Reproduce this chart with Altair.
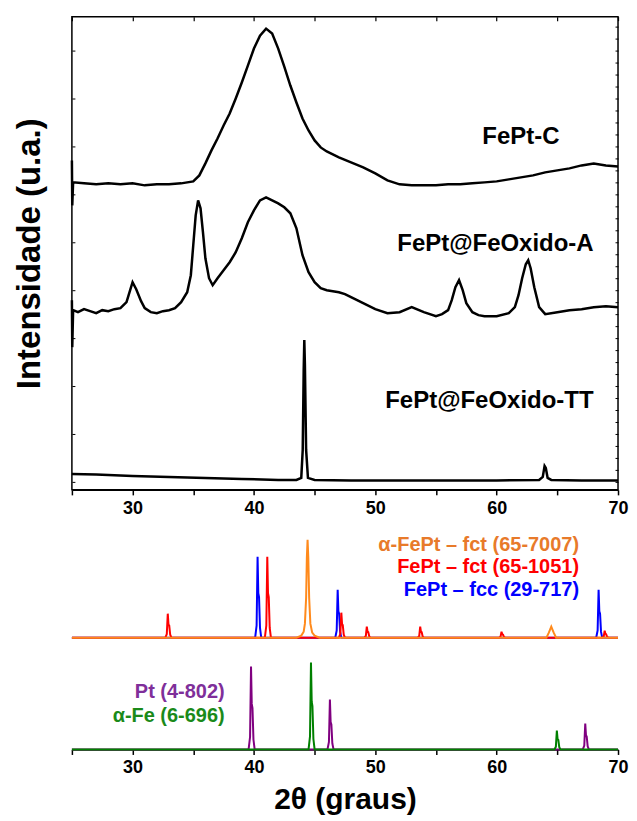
import altair as alt
import pandas as pd

FONT = "Liberation Sans"

# ---------------- sample patterns (top panel, arbitrary units) ----------------
c_x = [25, 25.03, 25.1, 26, 27, 28, 29, 30, 31, 32, 33, 34, 35, 35.5, 36, 36.5, 37, 37.5, 38, 38.5, 39, 39.5,
       40, 40.5, 41, 41.5, 42, 42.5, 43, 43.5, 44, 44.5, 45, 45.5, 46, 46.5, 47, 48, 49, 50, 51, 52,
       53, 54, 55, 56, 57, 58, 59, 60, 61, 62, 63, 64, 65, 66, 67, 68, 69, 70]
c_y = [330, 285, 308, 307, 306, 307, 306, 307, 305, 306, 306, 307, 309, 315, 327, 340, 352, 365, 377, 392, 408, 425,
       442, 455, 462, 457, 442, 424, 405, 388, 372, 360, 350, 343, 339, 336, 333, 328, 323, 317, 310, 306,
       305, 305, 305, 306, 306, 307, 308, 309, 311, 313, 315, 318, 320, 322, 325, 327, 325, 324]

a_x = [25, 25.03, 25.1, 25.5, 26, 26.5, 27, 27.5, 28, 28.5, 29, 29.5, 29.8, 30.0, 30.3, 30.7, 31, 31.5, 32, 32.5, 33,
       33.5, 34, 34.5, 34.8, 35.0, 35.2, 35.4, 35.6, 35.8, 36.0, 36.3, 36.6, 37, 37.5, 38, 38.5, 39, 39.5,
       40, 40.5, 41, 41.5, 42, 42.5, 43, 43.5, 44, 44.5, 45, 45.5, 46, 46.5, 47, 47.5, 48, 49, 50, 51, 52,
       53, 54, 55, 55.5, 56, 56.3, 56.6, 56.9, 57.2, 57.5, 58, 58.5, 59, 60, 61, 61.5, 61.8, 62.1, 62.4,
       62.6, 62.8, 63.1, 63.5, 64, 65, 66, 67, 68, 69, 70]
a_y = [190, 143, 180, 178, 181, 179, 177, 180, 179, 181, 182, 188, 200, 208, 201, 189, 182, 178, 177, 179, 180,
       182, 188, 198, 215, 245, 275, 290, 282, 258, 232, 212, 205, 212, 220, 228, 238, 252, 268,
       280, 290, 293, 290, 287, 283, 277, 262, 235, 218, 208, 202, 200, 199, 198, 196, 193, 187, 181, 177, 178,
       183, 178, 174, 176, 180, 190, 203, 210, 200, 187, 178, 175, 174, 174, 177, 183, 195, 212, 226,
       230, 222, 203, 183, 176, 178, 180, 181, 183, 184, 183]

tt_x = [25, 27, 30, 33, 36, 39, 42, 43.5, 43.9, 44.02, 44.1, 44.15, 44.2, 44.3, 44.45, 45, 48, 52, 56, 60,
        63.5, 63.8, 63.95, 64.05, 64.2, 64.5, 67, 70]
tt_y = [16, 15.5, 14, 13, 12, 11, 10, 10, 12, 40, 120, 150, 125, 40, 12, 10, 9.5, 9.5, 9.5, 9.5,
        10, 13, 24, 22, 12, 10, 9.5, 9.5]

# ---------------- reference patterns ----------------
fcc_pos = [40.3, 46.9, 68.4]
fcc_h = [81, 48, 48]
fct_pos = [32.9, 41.1, 47.2, 49.3, 53.7, 60.4, 68.9]
fct_h = [24, 81, 25, 11, 11, 6, 7]
afct_x = [25, 43.5, 43.9, 44.1, 44.2, 44.3, 44.36, 44.42, 44.48, 44.55, 44.65, 44.8, 45.0, 45.4,
          64.1, 64.3, 64.5, 64.7, 64.9, 70]
afct_y = [0, 0, 2, 6, 14, 40, 80, 98, 80, 40, 14, 5, 2, 0, 0, 5, 11, 5, 0, 0]
pt_pos = [39.76, 46.26, 67.3]
pt_h = [83, 50, 26]
fe_pos = [44.7, 64.96]
fe_h = [87, 19]

PROFILE_DX = [-0.2, -0.08, 0, 0.06, 0.12, 0.2, 0.3]
PROFILE_F = [0, 0.15, 1, 0.55, 0.5, 0.12, 0]


def sticks(name, pos, h):
    xs, ys = [25], [0]
    for p, hh in zip(pos, h):
        for dx, f in zip(PROFILE_DX, PROFILE_F):
            xs.append(p + dx)
            ys.append(hh * f)
    xs.append(70)
    ys.append(0)
    return pd.DataFrame({"x": xs, "y": ys, "s": name})


W = 547
H1, H2, H3 = 474, 119, 108
XS = alt.Scale(domain=[25, 70], nice=False, zero=False)
YT = alt.Scale(domain=[0, H1], nice=False, zero=False)
TICKS = [25, 30, 35, 40, 45, 50, 55, 60, 65, 70]
YTICKS = list(range(8, H1, 12))
LBL = "datum.value % 10 == 0 ? datum.label : ''"


def xaxis(title=None, lpad=5):
    kw = dict(values=TICKS, labelExpr=LBL, tickSize=5, tickWidth=1.5, tickColor="black",
              domainColor="black", domainWidth=1.5, grid=False, labelFont=FONT,
              labelFontSize=18, labelFontWeight="bold", labelColor="black", labelPadding=lpad,
              labelFlush=False)
    if title:
        kw.update(title=title, titleFont=FONT, titleFontSize=30, titleFontWeight="bold",
                  titleColor="black", titlePadding=8)
    else:
        kw.update(title=None)
    return alt.Axis(**kw)


# ---------------- top panel ----------------
top_df = pd.concat([
    pd.DataFrame({"x": c_x, "y": c_y, "s": "FePt-C"}),
    pd.DataFrame({"x": a_x, "y": a_y, "s": "FePt@FeOxido-A"}),
    pd.DataFrame({"x": tt_x, "y": tt_y, "s": "FePt@FeOxido-TT"}),
])

top_lines = alt.Chart(top_df).mark_line(color="black", strokeWidth=2.5).encode(
    x=alt.X("x:Q", scale=XS, axis=xaxis()),
    y=alt.Y("y:Q", scale=YT,
            axis=alt.Axis(title="Intensidade (u.a.)", labels=False, values=YTICKS, tickSize=3,
                          tickColor="black", tickWidth=1, offset=-3, grid=False, domain=False,
                          titleFont=FONT, titleFontSize=33,
                          titleFontWeight="bold", titleColor="black", titlePadding=25)),
    detail="s:N",
)


def label(text, x, y, color="black", size=24, align="center"):
    return alt.Chart().mark_text(text=text, font=FONT, fontSize=size, fontWeight="bold",
                                 color=color, align=align, baseline="middle").encode(
        x=alt.datum(x), y=alt.datum(y))


main = alt.layer(
    top_lines,
    label("FePt-C", 62.0, 353.5),
    label("FePt@FeOxido-A", 59.9, 246.5),
    label("FePt@FeOxido-TT", 59.4, 89),
)

# inward ticks on the top and right sides of the frame
frame_ticks = alt.Chart(top_df).mark_line(strokeOpacity=0).encode(
    x=alt.X("x:Q", scale=XS,
            axis=alt.Axis(orient="top", values=TICKS, labels=False, title=None, tickSize=4,
                          tickColor="black", tickWidth=1.2, offset=-4, domain=False, grid=False)),
    y=alt.Y("y:Q", scale=YT,
            axis=alt.Axis(orient="right", values=YTICKS, labels=False, title=None, tickSize=3,
                          tickColor="black", tickWidth=1, offset=-3, domain=False, grid=False)),
    detail="s:N",
)

top = alt.layer(main, frame_ticks).resolve_scale(x="independent", y="independent").properties(
    width=W, height=H1, view=alt.ViewBackground(stroke="black", strokeWidth=1.5))

# ---------------- middle panel ----------------
YM = alt.Scale(domain=[0, H2], nice=False)


def ref_line(df, color):
    return alt.Chart(df).mark_line(color=color, strokeWidth=2).encode(
        x=alt.X("x:Q", scale=XS, axis=None),
        y=alt.Y("y:Q", scale=YM, axis=None),
    )


mid = alt.layer(
    ref_line(sticks("fcc", fcc_pos, fcc_h), "#0000FF"),
    ref_line(sticks("fct", fct_pos, fct_h), "#FF0000"),
    ref_line(pd.DataFrame({"x": afct_x, "y": afct_y}), "#FF8A1C"),
    label("α-FePt – fct (65-7007)", 66.79, 93, "#E87A2A", 20, "right"),
    label("FePt – fct (65-1051)", 66.79, 71, "#FF0000", 20, "right"),
    label("FePt – fcc (29-717)", 66.79, 48, "#0000FF", 20, "right"),
).properties(width=W, height=H2, view=alt.ViewBackground(strokeOpacity=0))

# ---------------- bottom panel ----------------
YB = alt.Scale(domain=[0, H3], nice=False)


def ref_line_b(df, color, axis):
    return alt.Chart(df).mark_line(color=color, strokeWidth=2).encode(
        x=alt.X("x:Q", scale=XS, axis=axis),
        y=alt.Y("y:Q", scale=YB, axis=None),
    )


bot = alt.layer(
    ref_line_b(sticks("pt", pt_pos, pt_h), "#800080", xaxis("2θ (graus)", 4)),
    ref_line_b(sticks("fe", fe_pos, fe_h), "#008000", xaxis("2θ (graus)", 4)),
    label("Pt (4-802)", 37.59, 58, "#7F2F9A", 20, "right"),
    label("α-Fe (6-696)", 37.59, 34, "#1A8A1A", 20, "right"),
).properties(width=W, height=H3, view=alt.ViewBackground(strokeOpacity=0))

chart = alt.vconcat(top, mid, bot, spacing=0).properties(
    padding={"left": 4, "top": 6, "right": 0, "bottom": 0}
)

chart.save("out.html", embed_options={"renderer": "svg", "actions": False})
